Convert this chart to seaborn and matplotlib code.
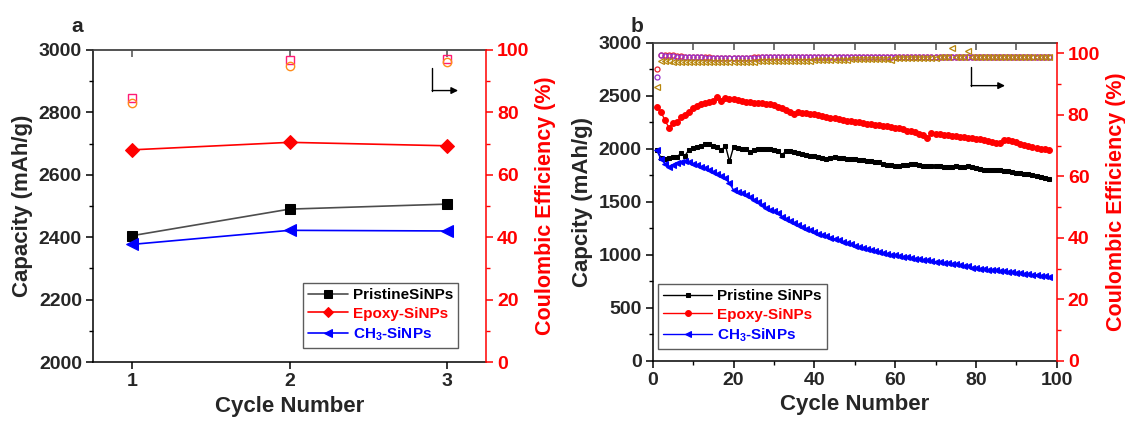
import matplotlib
matplotlib.use('Agg')
import matplotlib.pyplot as plt
import seaborn as sns
import pandas as pd
from matplotlib.ticker import MultipleLocator
from matplotlib.lines import Line2D

# ---------------- data ----------------
cycles_a = [1, 2, 3]
cap_pristine_a = [2405, 2490, 2506]
cap_epoxy_a = [2680, 2704, 2693]
cap_ch3_a = [2377, 2422, 2420]
ce_sq_a = [84.7, 96.8, 97.1]
ce_circ_a = [82.9, 95.0, 96.0]

cycles_b = list(range(1, 99))
cap_pristine_b = [
    1990, 1915, 1905, 1915, 1920, 1925, 1955, 1935, 1990, 2010,
    2020, 2030, 2040, 2040, 2030, 2020, 1985, 2030, 1880, 2015,
    2005, 2000, 1995, 1965, 1985, 1995, 2000, 2000, 1995, 1985,
    1975, 1945, 1975, 1975, 1965, 1960, 1950, 1945, 1935, 1930,
    1920, 1910, 1900, 1915, 1925, 1915, 1910, 1905, 1905, 1900,
    1895, 1890, 1885, 1880, 1875, 1870, 1860, 1850, 1845, 1840,
    1840, 1845, 1850, 1855, 1855, 1850, 1840, 1838, 1835, 1840,
    1835, 1830, 1825, 1830, 1835, 1830, 1825, 1835, 1830, 1820,
    1810, 1800, 1795, 1800, 1800, 1795, 1790, 1785, 1780, 1775,
    1770, 1765, 1765, 1755, 1745, 1730, 1720, 1715]
cap_epoxy_b = [
    2395, 2350, 2270, 2200, 2240, 2250, 2300, 2320, 2345, 2380,
    2400, 2420, 2435, 2440, 2450, 2485, 2450, 2475, 2470, 2465,
    2460, 2450, 2445, 2440, 2435, 2430, 2435, 2425, 2420, 2410,
    2395, 2380, 2365, 2350, 2330, 2345, 2340, 2335, 2325, 2325,
    2320, 2305, 2295, 2285, 2290, 2280, 2275, 2265, 2260, 2255,
    2250, 2240, 2235, 2230, 2225, 2220, 2215, 2210, 2205, 2200,
    2195, 2185, 2170, 2165, 2155, 2140, 2125, 2105, 2145, 2140,
    2135, 2130, 2125, 2120, 2118, 2112, 2108, 2105, 2100, 2095,
    2090, 2085, 2075, 2065, 2055, 2050, 2080, 2085, 2075, 2060,
    2045, 2035, 2025, 2015, 2005, 2000, 1995, 1990]
cap_ch3_b = [
    1985, 1905, 1860, 1830, 1850, 1865, 1875, 1880, 1870, 1855,
    1845, 1830, 1815, 1800, 1780, 1760, 1740, 1720, 1675, 1610,
    1595, 1580, 1565, 1540, 1520, 1500, 1470, 1440, 1425, 1410,
    1390, 1360, 1340, 1320, 1300, 1280, 1262, 1245, 1230, 1212,
    1200, 1188, 1175, 1162, 1148, 1135, 1122, 1110, 1098, 1085,
    1075, 1065, 1055, 1045, 1035, 1025, 1017, 1008, 1000, 995,
    988, 982, 975, 970, 963, 957, 951, 946, 940, 935,
    930, 925, 920, 915, 910, 903, 897, 890, 875, 872,
    868, 863, 858, 855, 852, 848, 845, 840, 836, 831,
    826, 820, 815, 810, 805, 800, 796, 792]
ce_red_b = [
    94.8, 99.6, 99.6, 99.5, 99.4, 99.3, 99.1, 99.0, 98.9, 98.9,
    98.8, 98.8, 98.7, 98.7, 98.6, 98.6, 98.6, 98.6, 98.6, 98.6,
    98.6, 98.6, 98.6, 98.6, 98.7, 98.7, 98.7, 98.7, 98.7, 98.7,
    98.7, 98.7, 98.7, 98.8, 98.8, 98.8, 98.8, 98.8, 98.8, 98.8,
    98.8, 98.8, 98.8, 98.8, 98.8, 98.9, 98.9, 98.9, 98.9, 98.9,
    98.9, 98.9, 98.9, 98.9, 98.9, 98.9, 98.9, 98.9, 98.9, 98.9,
    98.9, 98.9, 98.9, 98.9, 98.9, 98.9, 98.9, 98.9, 98.9, 98.9,
    98.9, 98.9, 98.9, 98.9, 98.9, 98.9, 98.9, 98.9, 98.9, 98.9,
    98.9, 98.9, 98.9, 98.9, 98.9, 98.9, 98.9, 98.9, 98.9, 98.9,
    98.9, 98.9, 98.9, 98.9, 98.9, 98.9, 98.9, 98.9]
ce_purple_b = [
    92.4, 99.4, 99.3, 99.2, 99.1, 99.0, 98.9, 98.9, 98.8, 98.8,
    98.7, 98.7, 98.6, 98.6, 98.6, 98.5, 98.5, 98.5, 98.5, 98.5,
    98.5, 98.5, 98.6, 98.6, 98.6, 98.6, 98.7, 98.7, 98.7, 98.7,
    98.7, 98.8, 98.8, 98.8, 98.8, 98.8, 98.8, 98.8, 98.9, 98.9,
    98.9, 98.9, 98.9, 98.9, 98.9, 98.9, 98.9, 99.0, 99.0, 99.0,
    99.0, 99.0, 99.0, 99.0, 99.0, 99.0, 99.0, 99.0, 99.0, 99.0,
    99.0, 99.0, 99.0, 99.0, 99.0, 99.0, 99.0, 99.0, 99.0, 99.0,
    99.0, 99.0, 99.0, 99.0, 99.0, 99.0, 99.0, 99.0, 99.0, 99.0,
    99.0, 99.0, 99.0, 99.0, 99.0, 99.0, 99.0, 99.0, 99.0, 99.0,
    99.0, 99.0, 99.0, 99.0, 99.0, 99.0, 99.0, 99.0]
ce_gold_b = [
    89.0, 97.6, 97.5, 97.4, 97.3, 97.3, 97.2, 97.2, 97.2, 97.2,
    97.2, 97.2, 97.2, 97.2, 97.2, 97.2, 97.2, 97.2, 97.2, 97.3,
    97.3, 97.3, 97.3, 97.3, 97.3, 97.4, 97.4, 97.4, 97.4, 97.5,
    97.5, 97.5, 97.5, 97.6, 97.6, 97.6, 97.7, 97.7, 97.7, 97.8,
    97.8, 97.8, 97.9, 97.9, 97.9, 98.0, 98.0, 98.0, 98.1, 98.1,
    98.1, 98.2, 98.2, 98.2, 98.3, 98.3, 98.3, 98.3, 97.9, 98.4,
    98.4, 98.4, 98.5, 98.5, 98.5, 98.5, 98.6, 98.6, 98.6, 98.6,
    98.7, 98.7, 98.7, 101.8, 98.8, 98.8, 98.9, 100.8, 98.9, 98.9,
    98.9, 98.9, 99.0, 99.0, 99.0, 99.0, 99.0, 99.0, 99.0, 99.0,
    99.0, 99.0, 99.0, 99.0, 99.0, 99.0, 99.0, 99.0]

legend_labels = ['PristineSiNPs', 'Epoxy-SiNPs', r'CH$_{3}$-SiNPs']
legend_labels_b = ['Pristine SiNPs', 'Epoxy-SiNPs', r'CH$_{3}$-SiNPs']

# ---------------- style ----------------
sns.set_style('ticks')
plt.rcParams['font.family'] = ['Liberation Sans', 'DejaVu Sans']
plt.rcParams['font.weight'] = 'bold'
plt.rcParams['axes.labelweight'] = 'bold'
plt.rcParams['mathtext.fontset'] = 'custom'
plt.rcParams['mathtext.rm'] = 'Liberation Sans:bold'
plt.rcParams['mathtext.bf'] = 'Liberation Sans:bold'
plt.rcParams['mathtext.default'] = 'bf'

RED = '#ff0000'
BLUE = '#0000ff'
GRAY = '#4d4d4d'
TICK_FS = 14
LABEL_FS = 16

fig = plt.figure(figsize=(11.25, 4.25), dpi=100)


def style_axes(ax, ax2, xmaj, xmin_loc, ymaj, ymin, y2maj, y2min, top_ticks):
    for s in ['left', 'bottom']:
        ax.spines[s].set_color('black')
        ax.spines[s].set_linewidth(1.1)
    ax.spines['top'].set_color(GRAY)
    ax.spines['top'].set_linewidth(1.1)
    ax.spines['right'].set_visible(False)
    for s in ['left', 'bottom', 'top']:
        ax2.spines[s].set_visible(False)
    ax2.spines['right'].set_color(RED)
    ax2.spines['right'].set_linewidth(1.1)
    ax.xaxis.set_major_locator(MultipleLocator(xmaj))
    if xmin_loc:
        ax.xaxis.set_minor_locator(MultipleLocator(xmin_loc))
    ax.yaxis.set_major_locator(MultipleLocator(ymaj))
    ax.yaxis.set_minor_locator(MultipleLocator(ymin))
    ax2.yaxis.set_major_locator(MultipleLocator(y2maj))
    ax2.yaxis.set_minor_locator(MultipleLocator(y2min))
    ax.tick_params(axis='both', which='major', direction='out', length=5, width=1.1,
                   labelsize=TICK_FS, color='black', pad=3)
    ax.tick_params(axis='both', which='minor', direction='out', length=3, width=1.0, color='black')
    ax.tick_params(axis='x', top=False)
    ax2.tick_params(axis='y', which='major', direction='out', length=5, width=1.1,
                    labelsize=TICK_FS, color=RED, labelcolor=RED, pad=3)
    ax2.tick_params(axis='y', which='minor', direction='out', length=3, width=1.0, color=RED)
    for t in ax.get_xticklabels() + ax.get_yticklabels() + ax2.get_yticklabels():
        t.set_fontweight('bold')
    sec = ax.secondary_xaxis('top')
    sec.set_xticks(top_ticks)
    sec.tick_params(direction='in', length=5, width=1.1, labeltop=False, color=GRAY)
    sec.spines['top'].set_color(GRAY)
    sec.spines['top'].set_linewidth(1.1)


def draw_arrow(ax, x0, ytop, ybot, x1):
    ax.plot([x0, x0], [ytop, ybot], transform=ax.transAxes, color='black', lw=1.0, clip_on=False)
    ax.annotate('', xy=(x1, ybot), xytext=(x0, ybot), xycoords='axes fraction',
                arrowprops=dict(arrowstyle='-|>', color='black', lw=1.0, mutation_scale=10,
                                shrinkA=0, shrinkB=0))


# ---------------- panel a ----------------
axa = fig.add_axes([0.0827, 0.1482, 0.3493, 0.7342])
axa2 = axa.twinx()

sns.lineplot(x=cycles_a, y=cap_pristine_a, ax=axa, color=GRAY, lw=1.2, marker='s', markersize=7,
             markerfacecolor='black', markeredgecolor='black', legend=False)
h1 = axa.lines[-1]
sns.lineplot(x=cycles_a, y=cap_epoxy_a, ax=axa, color=RED, lw=1.2, marker='D', markersize=7,
             markerfacecolor=RED, markeredgecolor=RED, legend=False)
h2 = axa.lines[-1]
sns.lineplot(x=cycles_a, y=cap_ch3_a, ax=axa, color=BLUE, lw=1.2, marker='<', markersize=8,
             markerfacecolor=BLUE, markeredgecolor=BLUE, legend=False)
h3 = axa.lines[-1]

sns.lineplot(x=cycles_a, y=ce_sq_a, ax=axa2, lw=0, marker='s', markersize=6,
             markerfacecolor='none', markeredgecolor='#ff1a75', markeredgewidth=1.0, legend=False)
sns.lineplot(x=cycles_a, y=ce_circ_a, ax=axa2, lw=0, marker='o', markersize=6,
             markerfacecolor='none', markeredgecolor='#ff8c1a', markeredgewidth=1.0, legend=False)

axa.set_xlim(0.75, 3.25)
axa.set_ylim(2000, 3000)
axa2.set_ylim(0, 100)
style_axes(axa, axa2, 1, None, 200, 100, 20, 10, [1, 2, 3])
axa.set_xlabel('Cycle Number', fontsize=LABEL_FS, fontweight='bold', labelpad=4)
axa.set_ylabel('Capacity (mAh/g)', fontsize=LABEL_FS, fontweight='bold', labelpad=4)
axa2.set_ylabel('Coulombic Efficiency (%)', fontsize=15.5, fontweight='bold', color=RED, labelpad=4)

leg = axa.legend([h1, h2, h3], legend_labels, loc='lower right', bbox_to_anchor=(0.929, 0.045),
                 borderaxespad=0, fontsize=11, frameon=True, fancybox=False, handlelength=2.6,
                 handletextpad=0.3, borderpad=0.35, labelspacing=0.3, markerscale=0.75)
leg.get_frame().set_edgecolor('#333333')
leg.get_frame().set_linewidth(1.0)
for t, c in zip(leg.get_texts(), ['black', RED, BLUE]):
    t.set_color(c)
    t.set_fontweight('bold')

draw_arrow(axa2, 0.863, 0.942, 0.870, 0.929)
fig.text(0.069, 0.925, 'a', fontsize=15, fontweight='bold', ha='center', va='baseline')

# ---------------- panel b ----------------
axb = fig.add_axes([0.5802, 0.1513, 0.3591, 0.7482])
axb2 = axb.twinx()

sns.lineplot(x=cycles_b, y=cap_pristine_b, ax=axb, color='black', lw=1.0, marker='s', markersize=3.5,
             markerfacecolor='black', markeredgecolor='black', legend=False)
g1 = axb.lines[-1]
sns.lineplot(x=cycles_b, y=cap_epoxy_b, ax=axb, color=RED, lw=1.0, marker='o', markersize=4.2,
             markerfacecolor=RED, markeredgecolor=RED, legend=False)
g2 = axb.lines[-1]
sns.lineplot(x=cycles_b, y=cap_ch3_b, ax=axb, color=BLUE, lw=1.0, marker='<', markersize=4.5,
             markerfacecolor=BLUE, markeredgecolor=BLUE, legend=False)
g3 = axb.lines[-1]

sns.lineplot(x=cycles_b, y=ce_red_b, ax=axb2, lw=0, marker='o', markersize=3.6,
             markerfacecolor='none', markeredgecolor='#e8202a', markeredgewidth=0.9, legend=False)
sns.lineplot(x=cycles_b, y=ce_purple_b, ax=axb2, lw=0, marker='o', markersize=3.6,
             markerfacecolor='none', markeredgecolor='#9933cc', markeredgewidth=0.9, legend=False)
sns.lineplot(x=cycles_b, y=ce_gold_b, ax=axb2, lw=0, marker='<', markersize=4.0,
             markerfacecolor='none', markeredgecolor='#b8860b', markeredgewidth=0.9, legend=False)

axb.set_xlim(0, 100)
axb.set_ylim(0, 3000)
axb2.set_ylim(0, 103.5)
style_axes(axb, axb2, 20, 10, 500, 250, 20, 10, list(range(10, 100, 10)))
axb.set_xlabel('Cycle Number', fontsize=LABEL_FS, fontweight='bold', labelpad=4)
axb.set_ylabel('Capcity (mAh/g)', fontsize=LABEL_FS, fontweight='bold', labelpad=4)
axb2.set_ylabel('Coulombic Efficiency (%)', fontsize=15.5, fontweight='bold', color=RED, labelpad=4)

legb = axb.legend([g1, g2, g3], legend_labels_b, loc='lower left', bbox_to_anchor=(0.013, 0.037),
                  borderaxespad=0, fontsize=11, frameon=True, fancybox=False, handlelength=3.2,
                  handletextpad=0.3, borderpad=0.35, labelspacing=0.3)
legb.get_frame().set_edgecolor('#333333')
legb.get_frame().set_linewidth(1.0)
for t, c in zip(legb.get_texts(), ['black', RED, BLUE]):
    t.set_color(c)
    t.set_fontweight('bold')

draw_arrow(axb2, 0.788, 0.925, 0.865, 0.872)
fig.text(0.566, 0.925, 'b', fontsize=15, fontweight='bold', ha='center', va='baseline')

fig.savefig('out.png', dpi=100)
